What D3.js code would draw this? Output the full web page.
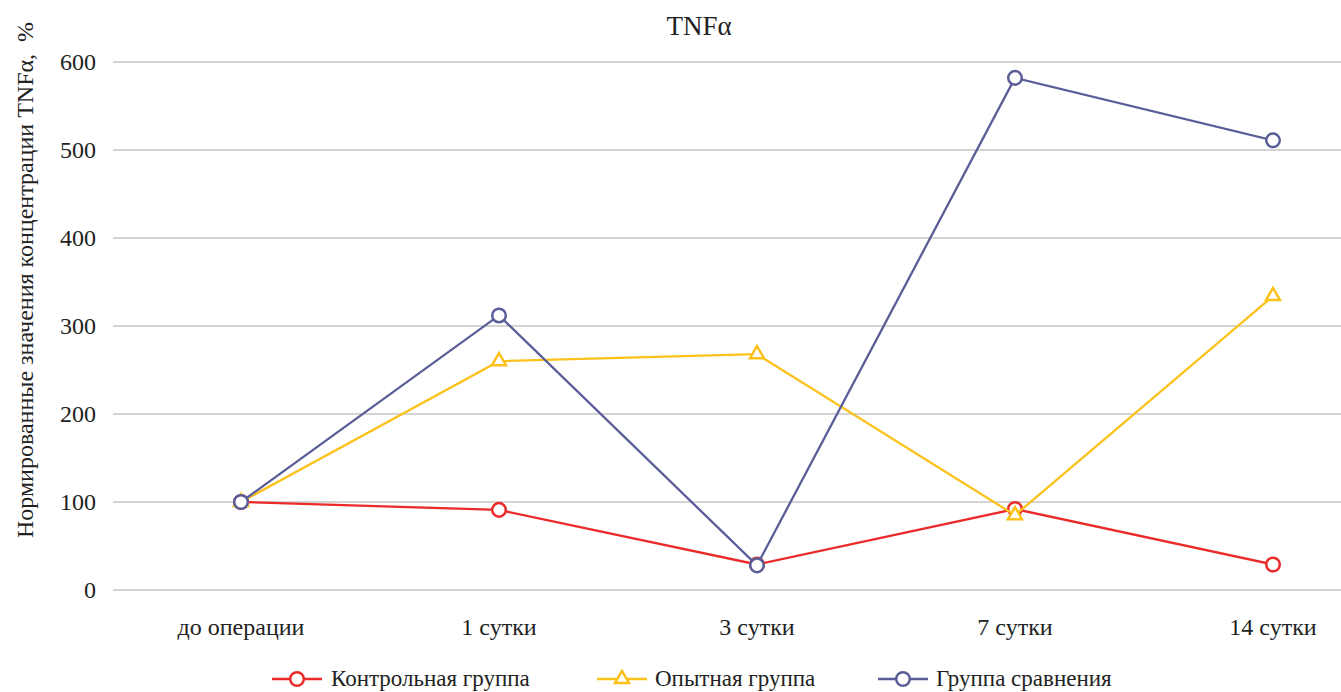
<!DOCTYPE html>
<html>
<head>
<meta charset="utf-8">
<script src="https://cdn.jsdelivr.net/npm/d3@7"></script>
<style>
  html, body { margin: 0; padding: 0; background: #fff; }
  svg text { font-family: "Liberation Serif", "Times New Roman", serif; }
</style>
</head>
<body>
<svg id="chart" width="1341" height="692"></svg>
<script>
// Time points of measurement
const categories = ["до операции", "1 сутки", "3 сутки", "7 сутки", "14 сутки"];

// Normalized TNFα concentration, % of pre-operative level
const controlGroup    = [100, 91, 29, 92, 29];
const experimentGroup = [100, 260, 268, 85, 334];
const comparisonGroup = [100, 312, 28, 582, 511];

const yTicks = [0, 100, 200, 300, 400, 500, 600];

const seriesNames = ["Контрольная группа", "Опытная группа", "Группа сравнения"];

const series = [
  { name: seriesNames[0], values: controlGroup,    color: "#ec2a2a", marker: "circle" },
  { name: seriesNames[1], values: experimentGroup, color: "#fcc21b", marker: "triangle" },
  { name: seriesNames[2], values: comparisonGroup, color: "#5a5e98", marker: "circle" }
];

const svg = d3.select("#chart");
const W = 1341, H = 692;

const plotLeft = 112, plotRight = 1402, plotTop = 62, plotBottom = 590;

const x = d3.scaleBand().domain(categories).range([plotLeft, plotRight]);
const cx = c => x(c) + x.bandwidth() / 2;
const y = d3.scaleLinear().domain([0, 600]).range([plotBottom, plotTop]);

// Horizontal gridlines
svg.append("g")
  .selectAll("line")
  .data(yTicks)
  .join("line")
  .attr("x1", plotLeft + 1)
  .attr("x2", W)
  .attr("y1", d => y(d))
  .attr("y2", d => y(d))
  .attr("stroke", "#a9a9a9")
  .attr("stroke-width", 1.2);

// Y axis tick labels
const yAxis = d3.axisLeft(y).tickValues(yTicks).tickSize(0).tickPadding(0);
const gy = svg.append("g").attr("transform", `translate(96,0)`).call(yAxis);
gy.attr("font-family", null);
gy.select(".domain").remove();
gy.selectAll("text")
  .attr("font-size", 24)
  .attr("fill", "#222")
  .attr("dy", "0.33em");

// X axis category labels
const xAxis = d3.axisBottom(x).tickSize(0).tickPadding(0);
const gx = svg.append("g").attr("transform", `translate(0,${plotBottom})`).call(xAxis);
gx.attr("font-family", null);
gx.select(".domain").remove();
gx.selectAll("text")
  .attr("font-size", 24)
  .attr("fill", "#222")
  .attr("y", 45)
  .attr("dy", 0);

// Title
svg.append("text")
  .attr("x", 699)
  .attr("y", 35)
  .attr("text-anchor", "middle")
  .attr("font-size", 27)
  .attr("fill", "#222")
  .text("TNFα");

// Y axis title
svg.append("text")
  .attr("transform", "translate(33,280) rotate(-90)")
  .attr("text-anchor", "middle")
  .attr("font-size", 24)
  .attr("fill", "#222")
  .attr("xml:space", "preserve")
  .text("Нормированные значения концентрации TNFα,  %");

const line = d3.line()
  .x((d, i) => cx(categories[i]))
  .y(d => y(d));

const triPath = size => {
  const h = size * Math.sqrt(3) / 2;
  return `M0,${-h * 2 / 3}L${size / 2},${h / 3}L${-size / 2},${h / 3}Z`;
};

function drawMarker(g, s, px, py) {
  if (s.marker === "circle") {
    g.append("circle")
      .attr("cx", px).attr("cy", py).attr("r", 6.8)
      .attr("fill", "#fff").attr("stroke", s.color).attr("stroke-width", 2.5);
  } else {
    g.append("path")
      .attr("d", triPath(14))
      .attr("transform", `translate(${px},${py})`)
      .attr("fill", "#fff").attr("stroke", s.color).attr("stroke-width", 2.5)
      .attr("stroke-linejoin", "miter");
  }
}

// Lines and markers for each series
series.forEach(s => {
  const g = svg.append("g");
  g.append("path")
    .datum(s.values)
    .attr("d", line)
    .attr("fill", "none")
    .attr("stroke", s.color)
    .attr("stroke-width", 2.3);
  s.values.forEach((v, i) => drawMarker(g, s, cx(categories[i]), y(v)));
});

// Legend
const legendItems = [
  { s: series[0], x0: 272, tx: 331 },
  { s: series[1], x0: 597, tx: 655 },
  { s: series[2], x0: 878, tx: 936 }
];
const ly = 679;
legendItems.forEach(it => {
  const g = svg.append("g");
  g.append("line")
    .attr("x1", it.x0).attr("x2", it.x0 + 50)
    .attr("y1", ly).attr("y2", ly)
    .attr("stroke", it.s.color).attr("stroke-width", 2.3);
  drawMarker(g, it.s, it.x0 + 25, ly);
  g.append("text")
    .attr("x", it.tx).attr("y", ly)
    .attr("dy", "0.3em")
    .attr("font-size", 23)
    .attr("fill", "#222")
    .text(it.s.name);
});
</script>
</body>
</html>
